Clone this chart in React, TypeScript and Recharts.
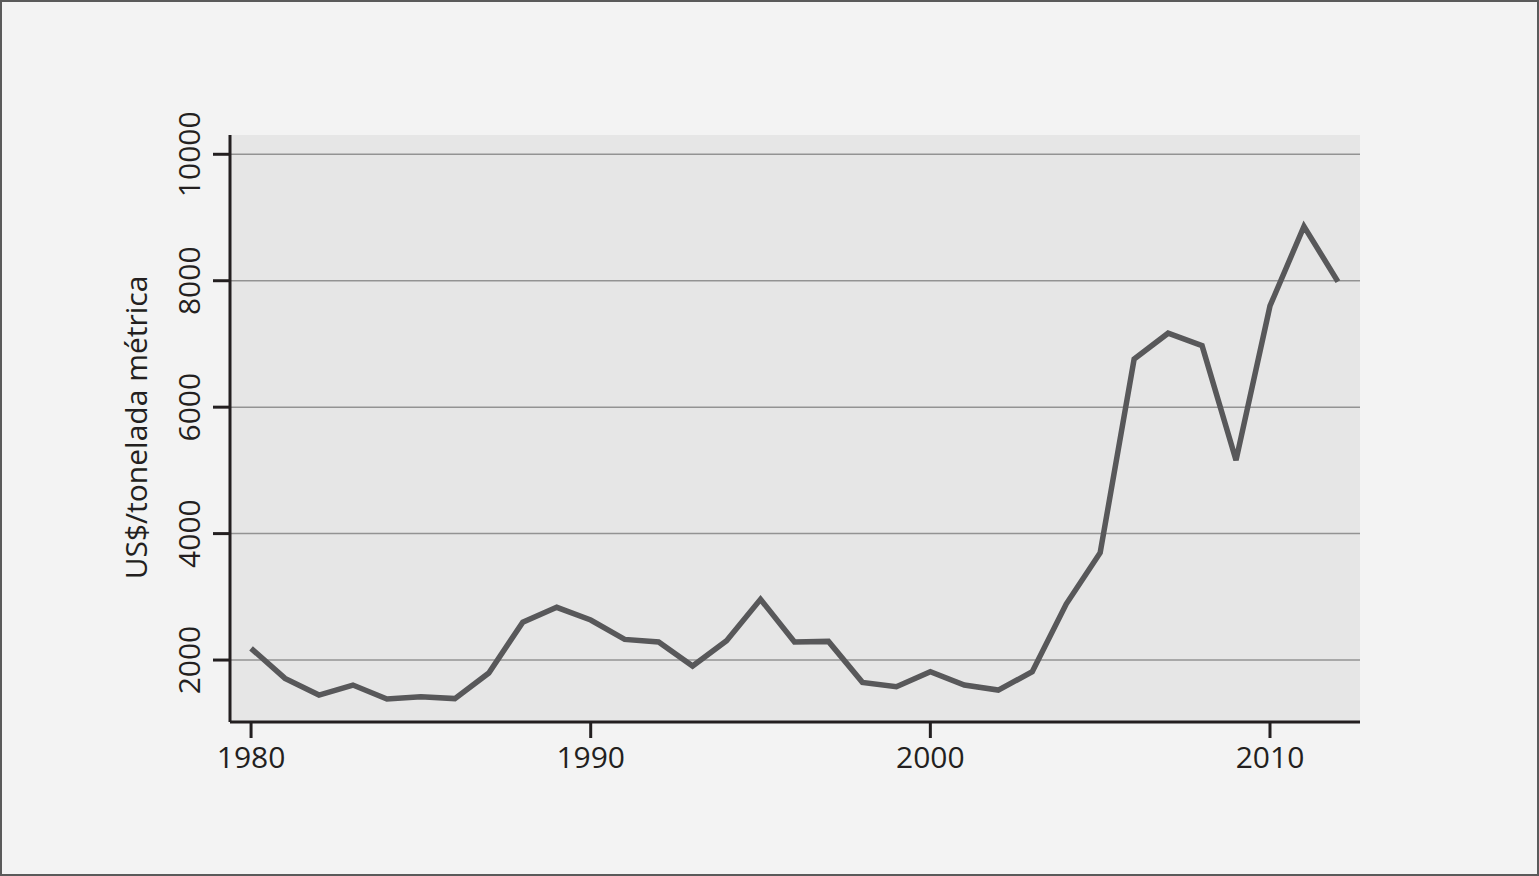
import { LineChart, Line, XAxis, YAxis, CartesianGrid } from 'recharts';

// anos e preço (US$/tonelada métrica)
const years = [
  1980, 1981, 1982, 1983, 1984, 1985, 1986, 1987, 1988, 1989, 1990, 1991, 1992, 1993, 1994, 1995, 1996,
  1997, 1998, 1999, 2000, 2001, 2002, 2003, 2004, 2005, 2006, 2007, 2008, 2009, 2010, 2011, 2012,
];
const prices = [
  2185, 1710, 1446, 1604, 1383, 1420, 1390, 1794, 2600, 2834, 2633, 2327, 2285, 1905, 2305, 2960, 2285,
  2295, 1647, 1578, 1815, 1604, 1525, 1815, 2885, 3697, 6760, 7170, 6973, 5160, 7601, 8860, 7986,
];
const xTicks = [1980, 1990, 2000, 2010];
const yTicks = [2000, 4000, 6000, 8000, 10000];
const yLabel = 'US$/tonelada métrica';

const data = years.map((year, i) => ({ year, price: prices[i] }));

const FONT = '"Open Sans", sans-serif';
const INK = '#231f20';

// rótulos do eixo Y ficam na vertical
// eslint-disable-next-line @typescript-eslint/no-explicit-any
const YTick = (props: any) => {
  const { x, y, payload } = props;
  return (
    <text
      x={x}
      y={y}
      transform={`rotate(-90 ${x} ${y})`}
      textAnchor="middle"
      fontSize={30}
      fontFamily={FONT}
      fill={INK}
    >
      {payload.value}
    </text>
  );
};

// eslint-disable-next-line @typescript-eslint/no-explicit-any
const YLabel = (props: any) => {
  const { viewBox } = props;
  const cx = viewBox.x - 3;
  const cy = viewBox.y + viewBox.height / 2 - 1;
  return (
    <text
      x={cx}
      y={cy}
      transform={`rotate(-90 ${cx} ${cy})`}
      textAnchor="middle"
      fontSize={30}
      fontFamily={FONT}
      fill={INK}
    >
      {yLabel}
    </text>
  );
};

export default function App() {
  return (
    <div
      style={{
        position: 'absolute',
        left: 0,
        top: 0,
        width: 1539,
        height: 876,
        background: '#f3f3f3',
      }}
    >
      <LineChart
        width={1539}
        height={876}
        data={data}
        margin={{ top: 135, right: 179, left: 150, bottom: 94 }}
      >
        <CartesianGrid
          vertical={false}
          horizontalValues={yTicks}
          fill="#e6e6e6"
          fillOpacity={1}
          stroke="#939393"
          strokeWidth={1.5}
        />
        <XAxis
          dataKey="year"
          type="number"
          domain={[1979.38, 2012.65]}
          ticks={xTicks}
          height={60}
          tickSize={16}
          tickMargin={9}
          axisLine={{ stroke: INK, strokeWidth: 3 }}
          tickLine={{ stroke: INK, strokeWidth: 3 }}
          tick={{ fontSize: 30, fontFamily: FONT, fill: INK }}
        />
        <YAxis
          type="number"
          domain={[1020, 10305]}
          ticks={yTicks}
          width={80}
          tickSize={17}
          tickMargin={13}
          axisLine={{ stroke: INK, strokeWidth: 3 }}
          tickLine={{ stroke: INK, strokeWidth: 3 }}
          tick={<YTick />}
          label={{ content: <YLabel /> }}
        />
        <Line
          type="linear"
          dataKey="price"
          stroke="#58585a"
          strokeWidth={5.5}
          dot={false}
          activeDot={false}
          isAnimationActive={false}
        />
      </LineChart>
      <div
        style={{
          position: 'absolute',
          inset: 0,
          border: '2px solid #5a5a5a',
          boxSizing: 'border-box',
          pointerEvents: 'none',
        }}
      />
    </div>
  );
}
